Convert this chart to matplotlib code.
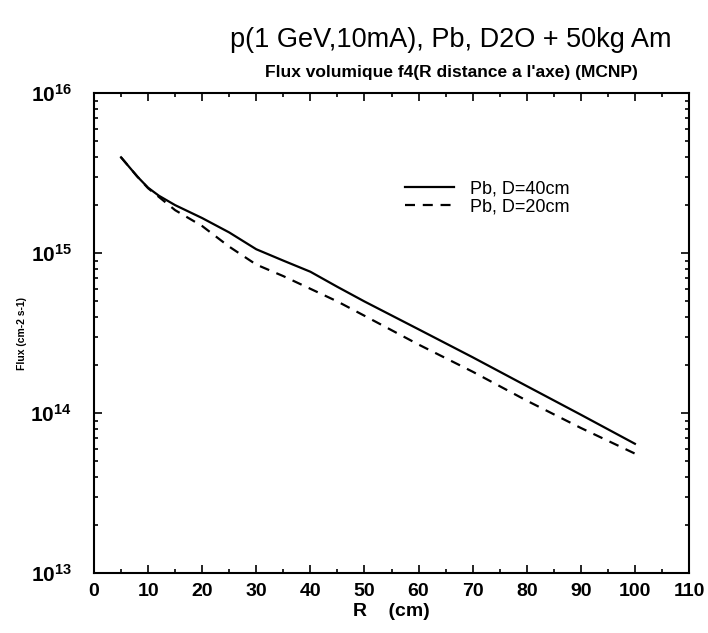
import math
import matplotlib
matplotlib.use("Agg")
import matplotlib.pyplot as plt
from matplotlib.ticker import FixedLocator, LogLocator, NullFormatter, FuncFormatter

plt.rcParams['font.family'] = ['Liberation Sans', 'DejaVu Sans']
plt.rcParams['mathtext.fontset'] = 'custom'
plt.rcParams['mathtext.rm'] = 'Liberation Sans'
plt.rcParams['mathtext.bf'] = 'Liberation Sans:bold'

# Data
r_40 = [5, 8, 10, 12, 15, 20, 25, 30, 35, 40, 45, 50, 60, 70, 80, 90, 100]
flux_40 = [3.98e15, 3.02e15, 2.57e15, 2.29e15, 2.0e15, 1.66e15, 1.35e15, 1.06e15,
           9.0e14, 7.67e14, 6.17e14, 5.0e14, 3.35e14, 2.24e14, 1.48e14, 9.8e13, 6.45e13]
r_20 = [5, 8, 10, 12, 15, 20, 25, 30, 35, 40, 45, 50, 60, 70, 80, 90, 100]
flux_20 = [3.98e15, 3.02e15, 2.55e15, 2.25e15, 1.86e15, 1.48e15, 1.10e15, 8.5e14,
           7.2e14, 6.0e14, 5.0e14, 4.07e14, 2.69e14, 1.82e14, 1.2e14, 8.1e13, 5.6e13]
label_40 = "Pb, D=40cm"
label_20 = "Pb, D=20cm"
x_ticks = [0, 10, 20, 30, 40, 50, 60, 70, 80, 90, 100, 110]

fig = plt.figure(figsize=(7.08, 6.33), dpi=100)
ax = fig.add_axes([94/708, 1-573.3/633, (689-94)/708, (573.3-93.3)/633])

ax.plot(r_40, flux_40, color='black', lw=1.6, solid_joinstyle='round', label=label_40)
ax.plot(r_20, flux_20, color='black', lw=1.6, dashes=(4.5, 3.5), label=label_20)

ax.set_yscale('log')
ax.set_xlim(0, 110)
ax.set_ylim(1e13, 1e16)

ax.xaxis.set_major_locator(FixedLocator(x_ticks))
ax.xaxis.set_minor_locator(FixedLocator([x + 5 for x in x_ticks[:-1]]))
ax.yaxis.set_major_locator(LogLocator(base=10, numticks=10))
ax.yaxis.set_minor_locator(LogLocator(base=10, subs=range(2, 10), numticks=10))
ax.yaxis.set_minor_formatter(NullFormatter())
ax.yaxis.set_major_formatter(FuncFormatter(lambda v, p: r'$\mathbf{10^{%d}}$' % round(math.log10(v))))

ax.tick_params(which='both', direction='in', top=True, right=True, width=1.2)
ax.tick_params(which='major', length=6)
ax.tick_params(which='minor', length=3)
ax.tick_params(axis='x', which='major', labelsize=14, pad=7)
ax.tick_params(axis='y', which='major', labelsize=15, pad=16)
for lab in ax.get_xticklabels():
    lab.set_fontweight('bold')
for s in ax.spines.values():
    s.set_linewidth(1.5)

ax.set_xlabel("R    (cm)", fontsize=14, fontweight='bold', labelpad=2)
ax.set_ylabel("Flux (cm-2 s-1)", fontsize=7.5, fontweight='bold', labelpad=2)

leg = ax.legend(loc='upper left', bbox_to_anchor=(0.495, 0.853), frameon=False,
                fontsize=13, handlelength=2.7, handletextpad=0.9, labelspacing=0.05)

fig.text(451/708, 1-40/633, "p(1 GeV,10mA), Pb, D2O + 50kg Am", ha='center', va='center',
         fontsize=19.5)
fig.text(451/708, 1-73/633, "Flux volumique f4(R distance a l'axe) (MCNP)", ha='center',
         va='center', fontsize=12.5, fontweight='bold')

fig.savefig("out.png", dpi=100)
